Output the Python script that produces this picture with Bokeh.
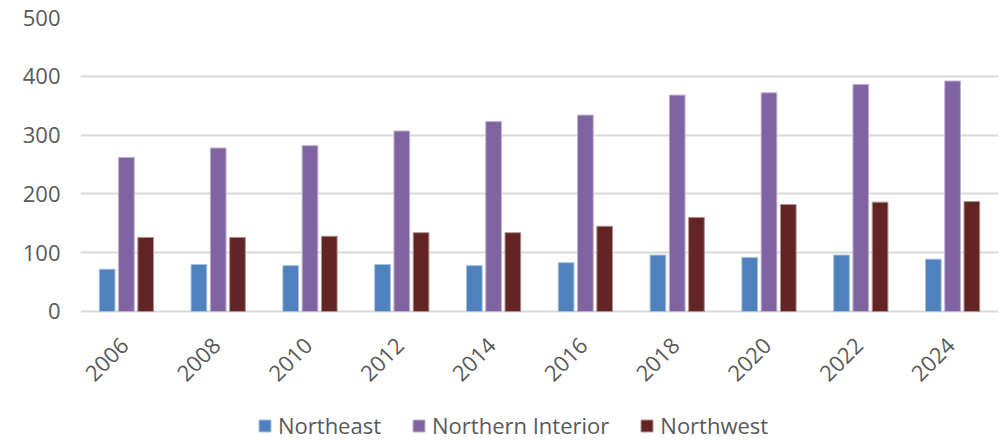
import math
from bokeh.plotting import figure
from bokeh.models import ColumnDataSource, Range1d, FixedTicker, Legend, LegendItem
from bokeh.core.properties import value
from bokeh.transform import dodge
from bokeh.embed import file_html
from bokeh.resources import INLINE

years = ["2006", "2008", "2010", "2012", "2014", "2016", "2018", "2020", "2022", "2024"]
northeast = [72, 80, 78, 80, 78, 83, 96, 92, 96, 89]
northern_interior = [262, 278, 282, 307, 323, 334, 368, 372, 386, 392]
northwest = [126, 126, 128, 134, 134, 145, 160, 182, 186, 187]
y_ticks = [0, 100, 200, 300, 400, 500]

src = ColumnDataSource(dict(year=years, ne=northeast, ni=northern_interior, nw=northwest,
                            base=[0] * len(years)))

FONT = "Open Sans"
TXT = "#595959"

# frame: 17px top .. 440px bottom; 500 units = 294px -> lower bound extends below zero
p = figure(x_range=years, y_range=Range1d(-219.4, 500), width=999, height=440,
           output_backend="svg", toolbar_location=None,
           min_border_left=80, min_border_right=1, min_border_top=17, min_border_bottom=0)
p.outline_line_color = None
p.background_fill_color = "white"
p.border_fill_color = "white"

W = 0.171
off = 0.21
r1 = p.vbar(x=dodge("year", -off, range=p.x_range), top="ne", width=W, source=src,
            fill_color="#4F81BD", line_color="#A7C0DE", line_width=1)
r2 = p.vbar(x=dodge("year", 0, range=p.x_range), top="ni", width=W, source=src,
            fill_color="#8064A2", line_color="#BFB1D0", line_width=1)
r3 = p.vbar(x=dodge("year", off, range=p.x_range), top="nw", width=W, source=src,
            fill_color="#632523", line_color="#B19291", line_width=1)

p.yaxis.ticker = FixedTicker(ticks=y_ticks)
p.ygrid.ticker = FixedTicker(ticks=y_ticks)
p.ygrid.grid_line_color = "#D9D9D9"
p.ygrid.grid_line_width = 2
p.xgrid.grid_line_color = None
p.ygrid.level = "underlay"

ya = p.yaxis[0]
ya.axis_line_color = None
ya.major_tick_line_color = None
ya.minor_tick_line_color = None
ya.major_label_text_font = FONT
ya.major_label_text_color = TXT
ya.major_label_text_font_size = "22px"
ya.major_label_standoff = 14

# category labels, rotated 45 degrees, placed under the zero line
p.xaxis.visible = False
p.text(x=dodge("year", -0.02, range=p.x_range), y="base", text="year", source=src,
       angle=math.pi / 4, text_align="right", text_baseline="middle",
       y_offset=30, text_font=value(FONT), text_font_size="22px", text_color=TXT)

legend = Legend(items=[
    LegendItem(label="Northeast", renderers=[r1]),
    LegendItem(label="Northern Interior", renderers=[r2]),
    LegendItem(label="Northwest", renderers=[r3]),
], orientation="horizontal", location=(177, 0))
legend.label_text_font = FONT
legend.label_text_font_size = "22px"
legend.label_text_color = TXT
legend.glyph_width = 15
legend.glyph_height = 15
legend.label_standoff = 6
legend.spacing = 30
legend.border_line_color = None
legend.background_fill_alpha = 0
legend.margin = 0
legend.padding = 2
p.add_layout(legend, "center")

open("out.html", "w").write(file_html(p, INLINE))
